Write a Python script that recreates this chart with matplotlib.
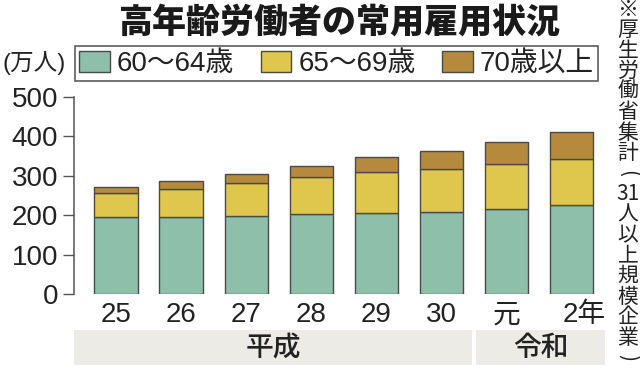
import numpy as np
import matplotlib
matplotlib.use("Agg")
import matplotlib.pyplot as plt
import matplotlib.transforms as mtransforms
from matplotlib.patches import Rectangle

plt.rcParams['font.family'] = ['Liberation Sans', 'Noto Sans CJK JP', 'DejaVu Sans']

# ---- data ----
years = ['25', '26', '27', '28', '29', '30', '元', '2年']
age60_64 = [195, 196, 199, 202, 205, 207, 215, 225]
age65_69 = [61, 71, 82, 96, 105, 110, 114, 117]
age70_plus = [16, 21, 24, 27, 37, 46, 58, 68]
series_names = ['60〜64歳', '65〜69歳', '70歳以上']
eras = ['平成', '令和']
y_ticks = [0, 100, 200, 300, 400, 500]
title = '高年齢労働者の常用雇用状況'
unit = '(万人)'
note = ['※', '厚', '生', '労', '働', '省', '集', '計', '(', '31', '人', '以', '上', '規', '模', '企', '業', ')']

colors = ['#8dbfab', '#dfc64c', '#b68a3c']
edge = '#4a4a4a'

W, H = 640, 370
fig = plt.figure(figsize=(6.4, 3.7), dpi=100)

ax_l, ax_r = 74, 605
ax_b, ax_t = 294, 97
ax = fig.add_axes([ax_l / W, (H - ax_b) / H, (ax_r - ax_l) / W, (ax_b - ax_t) / H])

x = np.arange(len(years))
bw = 0.665
b1 = ax.bar(x, age60_64, bw, color=colors[0], edgecolor=edge, linewidth=1.0, label=series_names[0])
b2 = ax.bar(x, age65_69, bw, bottom=age60_64, color=colors[1], edgecolor=edge, linewidth=1.0, label=series_names[1])
bot3 = np.array(age60_64) + np.array(age65_69)
b3 = ax.bar(x, age70_plus, bw, bottom=bot3, color=colors[2], edgecolor=edge, linewidth=1.0, label=series_names[2])

ax.set_xlim(-0.645, 7.51)
ax.set_ylim(0, 500)
for s in ['top', 'right', 'bottom']:
    ax.spines[s].set_visible(False)
ax.spines['left'].set_color('#555555')
ax.spines['left'].set_linewidth(1.1)

ax.set_yticks(y_ticks)
ax.set_yticklabels([str(v) for v in y_ticks])
ax.tick_params(axis='y', length=8, width=1.0, color='#555555', pad=3.5, labelsize=20, labelcolor='#222222')
ax.set_xticks(x)
ax.set_xticklabels(years)
ax.tick_params(axis='x', length=0, pad=6, labelsize=20, labelcolor='#222222')
lbls = ax.get_xticklabels()
off = mtransforms.ScaledTranslation(12 / 100, 0, fig.dpi_scale_trans)
lbls[-1].set_transform(lbls[-1].get_transform() + off)

# era bands
trans = mtransforms.blended_transform_factory(ax.transData, ax.transAxes)
yb0 = (ax_b - 365) / (ax_b - ax_t)
yb1 = (ax_b - 330) / (ax_b - ax_t)
band_edges = [(-0.645, 5.47), (5.53, 7.51)]
for name, (x0, x1) in zip(eras, band_edges):
    r = Rectangle((x0, yb0), x1 - x0, yb1 - yb0, transform=trans, facecolor='#ecebe5',
                  edgecolor='none', clip_on=False, zorder=0)
    ax.add_patch(r)
    ax.text((x0 + x1) / 2, (yb0 + yb1) / 2, name, transform=trans, ha='center', va='center',
            fontsize=20, fontweight='medium', color='#222222', family=['Noto Sans CJK JP'])

# title
fig.text(339 / W, (H - 22) / H, title, ha='center', va='center', fontsize=24.5,
         fontweight='heavy', family=['Noto Sans CJK JP'], color='#1a1a1a')

# unit
fig.text(2 / W, (H - 63) / H, unit, ha='left', va='center', fontsize=17, color='#222222')

# legend
leg = fig.legend(handles=[b1, b2, b3], labels=series_names, ncol=3,
                 loc='lower left', bbox_to_anchor=(75 / W, (H - 81) / H, (598 - 75) / W, 38 / H),
                 mode='expand', frameon=True, fancybox=False, fontsize=20,
                 handlelength=1.1, handleheight=0.8, handletextpad=0.25,
                 borderpad=0.15, borderaxespad=0, columnspacing=0.8)
leg.get_frame().set_edgecolor('#333333')
leg.get_frame().set_linewidth(1.2)
for t in leg.get_texts():
    t.set_color('#222222')

# vertical note
ys = np.linspace(H - 10, H - 358, len(note))
for ch, yy in zip(note, ys):
    rot = -90 if ch in '()' else 0
    fig.text(628 / W, yy / H, ch, ha='center', va='center', fontsize=15, rotation=rot,
             family=['Noto Sans CJK JP', 'Liberation Sans'], color='#222222')

fig.savefig('out.png', dpi=100)
